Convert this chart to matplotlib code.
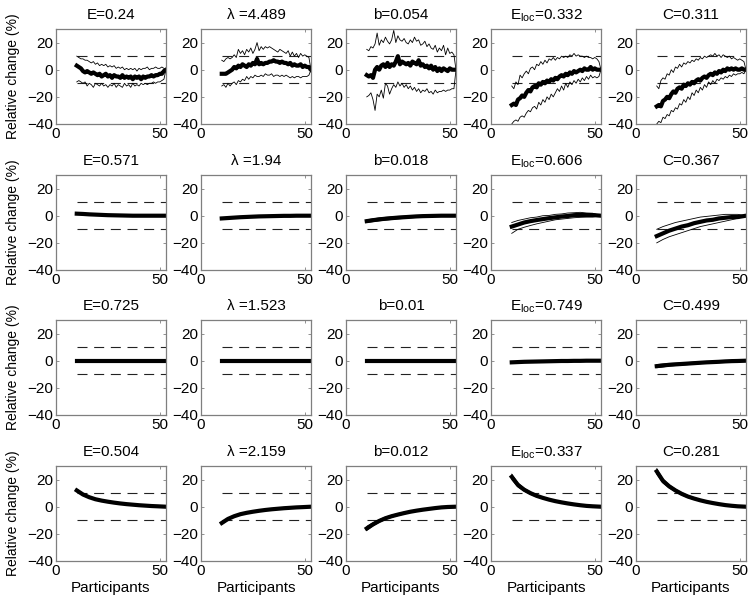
import numpy as np
import matplotlib.pyplot as plt


plt.rcParams['font.family'] = ['Liberation Sans', 'DejaVu Sans']
plt.rcParams['font.size'] = 11

# participants axis: dense grid for the noisy top row, coarse grid for smooth curves
x_fine = np.arange(10, 54)
x_coarse = [10, 13, 16, 19, 22, 25, 28, 31, 34, 37, 40, 43, 46, 49, 53]

titles = [
    ['E=0.24', 'λ =4.489', 'b=0.054', r'E$_{\mathregular{loc}}$=0.332', 'C=0.311'],
    ['E=0.571', 'λ =1.94', 'b=0.018', r'E$_{\mathregular{loc}}$=0.606', 'C=0.367'],
    ['E=0.725', 'λ =1.523', 'b=0.01', r'E$_{\mathregular{loc}}$=0.749', 'C=0.499'],
    ['E=0.504', 'λ =2.159', 'b=0.012', r'E$_{\mathregular{loc}}$=0.337', 'C=0.281'],
]

# ---- row 1 (noisy) : mean, upper, lower ----
row1_mean = [
    [3, 2, 1, -1, -2, -1, -2, -3, -2, -3, -4, -3, -5, -4, -3, -5, -4, -6, -4, -5, -5, -6,
     -4, -6, -5, -6, -5, -7, -5, -6, -5, -7, -5, -6, -5, -5, -4, -5, -4, -4, -3, -3, -1, 0],
    [-3, -3, -3, -2, -1, 0, 2, 1, 3, 2, 4, 3, 2, 4, 3, 5, 4, 8, 4, 5, 4, 5,
     5, 6, 6, 7, 6, 6, 5, 6, 5, 5, 4, 5, 3, 4, 3, 3, 4, 2, 3, 2, 2, 0],
    [-4, -5, -4, -6, 0, 2, 0, 3, 4, 2, 5, 2, 4, 3, 6, 10, 4, 6, 5, 4, 5, 3,
     6, 5, 4, 7, 3, 4, 2, 3, 1, 3, 0, 2, -1, 1, -1, 1, 0, -1, 1, 0, 0, 0],
    [-26, -25, -26, -22, -21, -19, -20, -17, -15, -16, -13, -12, -13, -10, -11, -9, -10, -8, -9, -7, -8, -6,
     -7, -5, -4, -5, -3, -4, -2, -3, -1, -2, -1, 0, -1, 1, 0, 0, 2, 0, 1, 0, 0, 0],
    [-27, -26, -27, -23, -22, -20, -21, -18, -16, -17, -14, -13, -14, -11, -12, -10, -11, -9, -10, -8, -7, -8,
     -6, -5, -6, -4, -3, -4, -2, -3, -1, -2, 0, -1, 1, 0, 1, 0, 1, 0, 0, 1, 0, 0],
]
row1_hi = [
    [10, 9, 8, 8, 7, 7, 6, 5, 6, 4, 5, 3, 4, 3, 4, 2, 3, 2, 3, 1, 2, 1,
     2, 0, 1, 0, 1, 0, 1, -1, 1, 0, 1, 1, 2, 0, 1, 1, 2, 1, 1, 2, 1, 0],
    [7, 6, 8, 9, 8, 9, 11, 9, 15, 12, 14, 11, 15, 13, 16, 12, 15, 20, 14, 17, 15, 17,
     16, 17, 16, 15, 14, 13, 15, 14, 13, 12, 14, 10, 13, 10, 12, 9, 12, 10, 11, 10, 9, 0],
    [15, 14, 17, 16, 19, 27, 18, 22, 20, 24, 21, 19, 22, 29, 20, 25, 22, 21, 23, 20, 19, 22,
     20, 24, 21, 22, 18, 19, 21, 17, 19, 16, 15, 18, 13, 16, 14, 18, 11, 16, 12, 13, 11, 0],
    [-12, -14, -9, -11, -4, -6, -3, -1, -3, 1, 2, 0, 4, 3, 6, 4, 7, 5, 8, 7, 9, 7,
     9, 8, 10, 9, 10, 9, 11, 10, 12, 10, 11, 10, 10, 9, 10, 9, 9, 8, 9, 8, 6, 0],
    [-12, -14, -8, -6, -7, -3, -4, 0, -2, 2, 1, 4, 2, 5, 4, 6, 5, 7, 6, 8, 7, 9,
     8, 10, 9, 10, 11, 10, 12, 10, 11, 9, 11, 10, 9, 10, 8, 9, 8, 7, 8, 7, 6, 0],
]
row1_lo = [
    [-9, -8, -9, -10, -9, -12, -10, -11, -13, -10, -11, -12, -10, -12, -11, -13, -11, -12, -10, -13, -11, -12,
     -13, -10, -12, -11, -13, -10, -12, -11, -12, -10, -11, -10, -11, -10, -10, -9, -10, -9, -9, -8, -7, 0],
    [-12, -11, -13, -10, -12, -10, -9, -11, -8, -9, -7, -8, -5, -7, -5, -6, -4, -5, -5, -4, -5, -3,
     -4, -4, -3, -5, -4, -4, -5, -4, -5, -4, -5, -6, -5, -6, -5, -5, -6, -5, -5, -5, -4, 0],
    [-20, -19, -17, -22, -30, -18, -20, -15, -21, -10, -12, -18, -14, -11, -13, -9, -12, -10, -13, -11, -14, -12,
     -15, -13, -16, -14, -17, -15, -16, -14, -17, -16, -18, -15, -17, -16, -16, -15, -16, -15, -15, -14, -14, 0],
    [-40, -38, -37, -38, -35, -34, -35, -32, -30, -31, -28, -27, -29, -24, -26, -22, -24, -20, -22, -18, -20, -17,
     -14, -16, -12, -15, -10, -13, -9, -11, -8, -10, -7, -9, -6, -8, -5, -7, -4, -6, -5, -6, -5, 0],
    [-40, -38, -39, -35, -36, -33, -34, -30, -31, -28, -29, -25, -26, -22, -24, -20, -22, -17, -19, -15, -17, -13,
     -15, -11, -13, -9, -11, -8, -10, -7, -8, -6, -7, -5, -6, -4, -5, -3, -4, -3, -3, -2, -3, 0],
]

# ---- rows 2-4 (smooth) on the coarse grid ----
row2_mean = [
    [1.5, 1.3, 1.0, 0.8, 0.6, 0.4, 0.3, 0.2, 0.1, 0, 0, 0, 0, 0, 0],
    [-2, -1.7, -1.4, -1.1, -0.9, -0.7, -0.5, -0.4, -0.3, -0.2, -0.1, -0.1, 0, 0, 0],
    [-4, -3.3, -2.7, -2.2, -1.8, -1.4, -1.1, -0.8, -0.5, -0.3, -0.2, -0.1, 0, 0, 0],
    [-8, -6.5, -5, -4, -3.2, -2.5, -1.8, -1.2, -0.6, -0.2, 0.4, 0.6, 0.5, 0.5, 0],
    [-15, -13, -11, -9.5, -8, -7, -5.5, -4.5, -3.5, -3, -2, -1.5, -1, -1, 0],
]
row2_hi = [
    [2.0, 1.8, 1.5, 1.2, 1.0, 0.8, 0.6, 0.5, 0.4, 0.3, 0.3, 0.2, 0.2, 0.1, 0],
    [-1.5, -1.2, -0.9, -0.7, -0.5, -0.3, -0.2, -0.1, 0, 0, 0.1, 0.1, 0.1, 0.1, 0],
    [-3, -2.3, -1.6, -1.2, -0.8, -0.5, -0.3, 0, 0.2, 0.3, 0.4, 0.4, 0.3, 0.3, 0],
    [-5, -3.5, -2.5, -1.5, -1, 0, 0.2, 1, 1.3, 2, 2.2, 2.5, 2, 1.8, 0],
    [-10, -8, -6.5, -5, -4, -3, -2, -1, -0.5, 0, 0.5, 1, 1, 1, 0],
]
row2_lo = [
    [1.0, 0.8, 0.5, 0.3, 0.2, 0, -0.1, -0.1, -0.2, -0.2, -0.2, -0.2, -0.1, -0.1, 0],
    [-2.5, -2.2, -1.9, -1.6, -1.3, -1.1, -0.9, -0.7, -0.6, -0.4, -0.3, -0.2, -0.2, -0.1, 0],
    [-5, -4.4, -3.8, -3.3, -2.8, -2.4, -2, -1.6, -1.3, -1, -0.8, -0.6, -0.4, -0.3, 0],
    [-13, -10, -8.5, -7.2, -6, -5, -4, -3, -2.5, -2, -1.5, -1.2, -1, -1, 0],
    [-20, -17.5, -15.5, -14, -12.5, -11, -9.5, -8, -7, -6, -5, -4, -3, -2, 0],
]

row3_mean = [
    [0, 0, 0, 0, 0, 0, 0, 0, 0, 0, 0, 0, 0, 0, 0],
    [0, 0, 0, 0, 0, 0, 0, 0, 0, 0, 0, 0, 0, 0, 0],
    [0, 0, 0, 0, 0, 0, 0, 0, 0, 0, 0, 0, 0, 0, 0],
    [-1.2, -1, -0.8, -0.7, -0.6, -0.5, -0.4, -0.3, -0.2, -0.2, -0.1, -0.1, 0, 0, 0],
    [-4, -3.5, -3, -2.7, -2.4, -2.1, -1.8, -1.5, -1.2, -1, -0.8, -0.5, -0.3, -0.2, 0],
]
row3_hi = [
    [0.2, 0.2, 0.2, 0.2, 0.2, 0.1, 0.1, 0.1, 0.1, 0.1, 0.1, 0.1, 0, 0, 0],
    [0.2, 0.2, 0.2, 0.2, 0.1, 0.1, 0.1, 0.1, 0.1, 0.1, 0.1, 0, 0, 0, 0],
    [0.3, 0.3, 0.2, 0.2, 0.2, 0.2, 0.1, 0.1, 0.1, 0.1, 0.1, 0, 0, 0, 0],
    [-0.8, -0.6, -0.5, -0.4, -0.3, -0.2, -0.2, -0.1, 0, 0, 0.1, 0.1, 0.1, 0, 0],
    [-2.8, -2.4, -2, -1.8, -1.5, -1.3, -1, -0.8, -0.6, -0.4, -0.3, -0.1, 0, 0, 0],
]
row3_lo = [
    [-0.2, -0.2, -0.2, -0.2, -0.2, -0.1, -0.1, -0.1, -0.1, -0.1, -0.1, -0.1, 0, 0, 0],
    [-0.2, -0.2, -0.2, -0.2, -0.1, -0.1, -0.1, -0.1, -0.1, -0.1, -0.1, 0, 0, 0, 0],
    [-0.3, -0.3, -0.2, -0.2, -0.2, -0.2, -0.1, -0.1, -0.1, -0.1, -0.1, 0, 0, 0, 0],
    [-1.6, -1.4, -1.2, -1.0, -0.9, -0.8, -0.6, -0.5, -0.4, -0.4, -0.3, -0.2, -0.1, -0.1, 0],
    [-5.2, -4.6, -4, -3.6, -3.3, -2.9, -2.6, -2.2, -1.8, -1.6, -1.3, -0.9, -0.6, -0.4, 0],
]

row4_mean = [
    [12, 9, 7, 5.5, 4.5, 3.7, 3, 2.4, 1.9, 1.5, 1.1, 0.8, 0.5, 0.3, 0],
    [-12, -9, -7, -5.5, -4.5, -3.7, -3, -2.4, -1.9, -1.5, -1.1, -0.8, -0.5, -0.3, 0],
    [-16, -13, -10.5, -8.5, -7, -5.8, -4.7, -3.7, -2.9, -2.2, -1.6, -1, -0.5, -0.2, 0],
    [22, 16, 12.5, 10, 8, 6.5, 5.2, 4.1, 3.2, 2.4, 1.7, 1.1, 0.6, 0.3, 0],
    [26, 19, 15, 12, 9.5, 7.5, 6, 4.7, 3.6, 2.7, 1.9, 1.2, 0.7, 0.3, 0],
]
row4_hi = [
    [13, 9.8, 7.6, 6, 4.9, 4, 3.3, 2.7, 2.1, 1.7, 1.3, 0.9, 0.6, 0.3, 0],
    [-11, -8.3, -6.4, -5, -4.1, -3.4, -2.7, -2.2, -1.7, -1.3, -1, -0.7, -0.4, -0.2, 0],
    [-14.5, -11.8, -9.5, -7.6, -6.2, -5, -4, -3.1, -2.4, -1.7, -1.2, -0.7, -0.3, -0.1, 0],
    [24, 17.5, 13.6, 10.9, 8.8, 7.2, 5.8, 4.6, 3.6, 2.8, 2, 1.3, 0.8, 0.4, 0],
    [28, 20.5, 16.2, 13, 10.4, 8.3, 6.7, 5.3, 4.1, 3.1, 2.2, 1.5, 0.9, 0.4, 0],
]
row4_lo = [
    [11, 8.2, 6.4, 5, 4.1, 3.4, 2.7, 2.1, 1.7, 1.3, 0.9, 0.7, 0.4, 0.2, 0],
    [-13, -9.8, -7.6, -6, -4.9, -4, -3.3, -2.7, -2.1, -1.7, -1.3, -0.9, -0.6, -0.3, 0],
    [-17.5, -14.2, -11.5, -9.4, -7.8, -6.6, -5.4, -4.3, -3.4, -2.7, -2, -1.3, -0.7, -0.3, 0],
    [20, 14.5, 11.4, 9.1, 7.2, 5.8, 4.6, 3.6, 2.8, 2, 1.4, 0.9, 0.4, 0.2, 0],
    [24, 17.5, 13.8, 11, 8.6, 6.7, 5.3, 4.1, 3.1, 2.3, 1.6, 1, 0.5, 0.2, 0],
]

rows = [
    (x_fine, row1_mean, row1_hi, row1_lo),
    (x_coarse, row2_mean, row2_hi, row2_lo),
    (x_coarse, row3_mean, row3_hi, row3_lo),
    (x_coarse, row4_mean, row4_hi, row4_lo),
]

W, H = 749, 606
fig = plt.figure(figsize=(W / 100, H / 100), dpi=100)

ax_w, ax_h = 110, 95
lefts = [56, 201, 346, 491, 636]
tops = [29, 175, 320, 466]
frame = '#7f7f7f'

for r, (xs, means, his, los) in enumerate(rows):
    for c in range(5):
        ax = fig.add_axes([lefts[c] / W, 1 - (tops[r] + ax_h) / H, ax_w / W, ax_h / H])
        ax.plot([10, 53], [10, 10], color='#222222', lw=0.8, dashes=[9, 6])
        ax.plot([10, 53], [-10, -10], color='#222222', lw=0.8, dashes=[9, 6])
        ax.plot(xs, his[c], color='black', lw=0.6)
        ax.plot(xs, los[c], color='black', lw=0.6)
        ax.plot(xs, means[c], color='black', lw=3.0)
        ax.set_xlim(0, 53)
        ax.set_ylim(-40, 30)
        ax.set_xticks([0, 50])
        ax.set_yticks([-40, -20, 0, 20])
        ax.tick_params(direction='in', length=2.5, width=0.6, color=frame,
                       top=True, right=True, pad=2, labelsize=11)
        for s in ax.spines.values():
            s.set_color(frame)
            s.set_linewidth(0.9)
        ax.set_title(titles[r][c], fontsize=11, pad=7)
        if c == 0:
            ax.set_ylabel('Relative change (%)', fontsize=10)
            ax.yaxis.set_label_coords(-0.33, 0.5)
        if r == 3:
            ax.set_xlabel('Participants', fontsize=11, labelpad=2)

fig.savefig('out.png', dpi=100)
